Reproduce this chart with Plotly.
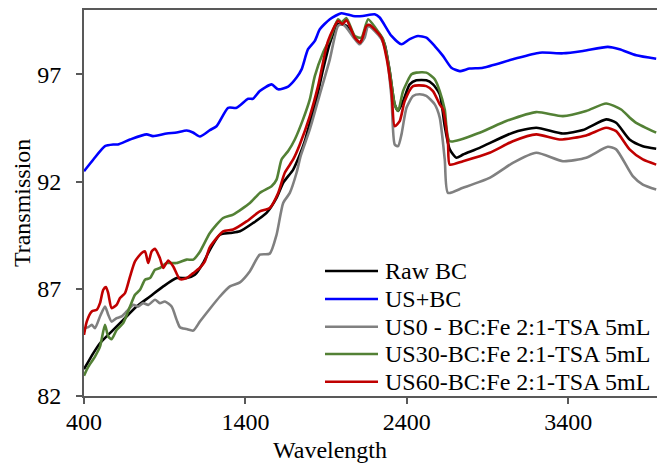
import plotly.graph_objects as go

# ---- data ----
x_tick_vals = [400, 1400, 2400, 3400]
y_tick_vals = [82, 87, 92, 97]

raw_x = [400, 458, 499, 581, 643, 726, 809, 891, 974, 1036, 1087, 1138, 1180, 1242, 1304, 1366, 1448, 1531, 1593, 1634, 1696, 1737, 1768, 1799, 1840, 1881, 1923, 1974, 1995, 2026, 2078, 2108, 2129, 2160, 2191, 2232, 2263, 2294, 2325, 2346, 2377, 2418, 2459, 2521, 2562, 2604, 2635, 2666, 2707, 2748, 2851, 3057, 3202, 3367, 3491, 3635, 3697, 3780, 3862, 3945]
raw_y = [83.25, 84.00, 84.46, 85.08, 85.55, 86.17, 86.64, 87.11, 87.50, 87.50, 87.65, 88.20, 88.82, 89.52, 89.60, 89.68, 90.07, 90.54, 91.24, 91.94, 92.56, 93.25, 93.88, 94.74, 95.83, 97.23, 98.45, 99.34, 99.34, 99.26, 98.71, 98.48, 98.71, 99.26, 99.15, 98.87, 98.40, 97.15, 95.60, 95.29, 95.75, 96.53, 96.72, 96.72, 96.53, 96.07, 94.58, 93.50, 93.11, 93.26, 93.57, 94.28, 94.51, 94.24, 94.40, 94.90, 94.74, 93.96, 93.65, 93.53]

usbc_x = [400, 458, 530, 581, 610, 685, 788, 827, 912, 974, 1036, 1075, 1118, 1180, 1221, 1293, 1345, 1417, 1446, 1489, 1562, 1603, 1665, 1717, 1748, 1788, 1830, 1861, 1923, 1995, 2067, 2127, 2201, 2232, 2305, 2367, 2418, 2469, 2521, 2573, 2624, 2676, 2727, 2789, 2872, 3057, 3223, 3367, 3491, 3645, 3718, 3821, 3945]
usbc_y = [92.48, 93.03, 93.65, 93.73, 93.73, 93.96, 94.20, 94.12, 94.24, 94.29, 94.38, 94.29, 94.10, 94.40, 94.58, 95.44, 95.44, 95.86, 95.86, 96.22, 96.53, 96.30, 96.43, 96.85, 97.23, 98.17, 98.56, 99.10, 99.57, 99.85, 99.72, 99.72, 99.80, 99.65, 98.79, 98.40, 98.64, 98.79, 98.71, 98.32, 97.86, 97.31, 97.15, 97.27, 97.31, 97.70, 98.01, 97.98, 98.09, 98.28, 98.17, 97.89, 97.73]

us0_x = [400, 427, 448, 468, 499, 530, 550, 571, 602, 633, 664, 705, 736, 767, 798, 840, 870, 901, 943, 974, 994, 1036, 1077, 1118, 1180, 1242, 1304, 1366, 1428, 1489, 1551, 1593, 1634, 1675, 1717, 1743, 1799, 1861, 1923, 1974, 2005, 2026, 2078, 2108, 2139, 2160, 2201, 2243, 2274, 2305, 2325, 2346, 2367, 2398, 2439, 2480, 2521, 2573, 2604, 2635, 2655, 2748, 2913, 3057, 3202, 3367, 3511, 3645, 3697, 3800, 3862, 3945]
us0_y = [85.16, 85.21, 85.32, 85.16, 85.71, 86.17, 85.79, 85.47, 85.63, 85.71, 85.94, 86.25, 86.17, 86.33, 86.25, 86.49, 86.33, 86.41, 86.17, 85.55, 85.21, 85.12, 85.05, 85.47, 86.07, 86.64, 87.11, 87.30, 87.82, 88.59, 88.64, 89.52, 91.00, 91.47, 92.41, 93.21, 94.43, 96.07, 97.70, 99.26, 99.34, 99.18, 98.64, 98.40, 98.71, 99.26, 99.02, 98.64, 97.93, 95.91, 93.73, 93.65, 94.20, 95.44, 95.99, 96.07, 95.99, 95.60, 94.98, 93.03, 91.47, 91.71, 92.17, 92.87, 93.34, 92.95, 93.11, 93.62, 93.50, 92.25, 91.86, 91.63]

us30_x = [400, 427, 468, 499, 530, 550, 571, 602, 643, 685, 716, 747, 778, 809, 840, 870, 912, 974, 1036, 1077, 1118, 1180, 1262, 1324, 1428, 1489, 1562, 1593, 1624, 1665, 1706, 1757, 1799, 1830, 1881, 1923, 1974, 1995, 2026, 2078, 2119, 2160, 2212, 2253, 2294, 2325, 2346, 2377, 2429, 2459, 2521, 2573, 2604, 2635, 2666, 2851, 3016, 3202, 3367, 3511, 3635, 3728, 3780, 3821, 3945]
us30_y = [82.95, 83.37, 83.84, 84.30, 85.32, 84.77, 84.65, 85.08, 85.40, 86.17, 86.72, 86.95, 87.42, 87.50, 87.89, 87.97, 88.20, 88.20, 88.36, 88.36, 88.73, 89.60, 90.30, 90.46, 91.00, 91.47, 91.78, 92.09, 93.03, 93.42, 93.96, 94.90, 95.83, 96.92, 98.01, 98.64, 99.57, 99.42, 99.62, 98.79, 98.71, 99.57, 99.10, 98.64, 97.15, 95.60, 95.29, 96.22, 97.00, 97.08, 97.08, 96.77, 96.22, 95.36, 93.88, 94.28, 94.82, 95.24, 95.05, 95.29, 95.64, 95.36, 94.99, 94.74, 94.28]

us60_x = [400, 417, 448, 479, 499, 519, 536, 550, 571, 602, 623, 654, 685, 716, 757, 778, 798, 819, 840, 870, 891, 922, 953, 994, 1036, 1077, 1118, 1149, 1180, 1262, 1324, 1407, 1489, 1551, 1603, 1644, 1696, 1737, 1799, 1850, 1912, 1974, 2001, 2026, 2078, 2113, 2150, 2170, 2243, 2274, 2305, 2325, 2356, 2387, 2439, 2521, 2562, 2604, 2624, 2655, 2666, 2748, 2913, 3057, 3202, 3346, 3511, 3635, 3697, 3780, 3862, 3945]
us60_y = [84.85, 85.47, 85.94, 86.02, 86.33, 86.95, 87.08, 86.80, 86.10, 86.25, 86.57, 86.80, 87.57, 88.28, 88.67, 88.74, 88.20, 88.74, 88.86, 88.43, 87.97, 88.32, 88.04, 87.45, 87.50, 87.73, 87.98, 88.28, 88.94, 89.68, 89.76, 90.14, 90.61, 90.77, 91.47, 92.41, 93.03, 93.73, 95.05, 96.45, 98.56, 99.49, 99.34, 99.52, 98.71, 98.48, 99.26, 99.30, 98.71, 97.78, 96.22, 94.58, 94.82, 95.75, 96.45, 96.45, 96.22, 95.60, 95.36, 93.81, 92.79, 92.95, 93.34, 93.88, 94.20, 93.96, 94.15, 94.51, 94.35, 93.50, 93.03, 92.79]

series_names = ["Raw BC", "US+BC", "US0 - BC:Fe 2:1-TSA 5mL", "US30-BC:Fe 2:1-TSA 5mL", "US60-BC:Fe 2:1-TSA 5mL"]
series_x = [raw_x, usbc_x, us0_x, us30_x, us60_x]
series_y = [raw_y, usbc_y, us0_y, us30_y, us60_y]
series_colors = ["#000000", "#0000FF", "#808080", "#538135", "#C00000"]

FONT = "Liberation Serif, Times New Roman, serif"

fig = go.Figure()
for name, xs, ys, col in zip(series_names, series_x, series_y, series_colors):
    fig.add_trace(go.Scatter(x=xs, y=ys, mode="lines", name=name,
                             line=dict(color=col, width=2.6, shape="spline", smoothing=0.6),
                             showlegend=False))

# custom legend (line sample + text) placed in paper coordinates
leg_x0, leg_x1, leg_tx = 0.4206, 0.5131, 0.5218
leg_rows = [0.3238, 0.2513, 0.1795, 0.1088, 0.0370]
for name, col, yy in zip(series_names, series_colors, leg_rows):
    fig.add_shape(type="line", xref="paper", yref="paper", x0=leg_x0, x1=leg_x1, y0=yy, y1=yy,
                  line=dict(color=col, width=2.6))
    fig.add_annotation(xref="paper", yref="paper", x=leg_tx, y=yy, text=name, showarrow=False,
                       xanchor="left", yanchor="middle", font=dict(family=FONT, size=24, color="#000000"))

fig.add_annotation(xref="paper", yref="paper", x=0.429, y=-0.14, text="Wavelength", showarrow=False,
                   xanchor="center", yanchor="middle", font=dict(family=FONT, size=24, color="#000000"))
fig.add_annotation(xref="paper", yref="paper", x=-0.108, y=0.5, text="Transmission", showarrow=False,
                   textangle=-90, xanchor="center", yanchor="middle",
                   font=dict(family=FONT, size=24, color="#000000"))

fig.update_layout(
    width=657, height=463,
    margin=dict(l=84, r=0, t=10, b=67),
    paper_bgcolor="white", plot_bgcolor="white",
    font=dict(family=FONT, size=24, color="#000000"),
    showlegend=False,
)
fig.update_xaxes(range=[400, 3950], tickvals=x_tick_vals, ticks="outside", ticklen=6, tickwidth=1.5,
                 tickcolor="#595959", showline=True, linecolor="#595959", linewidth=2, mirror=True,
                 showgrid=False, zeroline=False, ticklabelstandoff=-3,
                 tickfont=dict(family=FONT, size=24, color="#000000"))
fig.update_yaxes(range=[82, 100], tickvals=y_tick_vals, ticks="outside", ticklen=6, tickwidth=1.5,
                 tickcolor="#595959", showline=True, linecolor="#595959", linewidth=2, mirror=False,
                 showgrid=False, zeroline=False, ticklabelstandoff=10,
                 tickfont=dict(family=FONT, size=24, color="#000000"))

fig.write_html("out.html")
